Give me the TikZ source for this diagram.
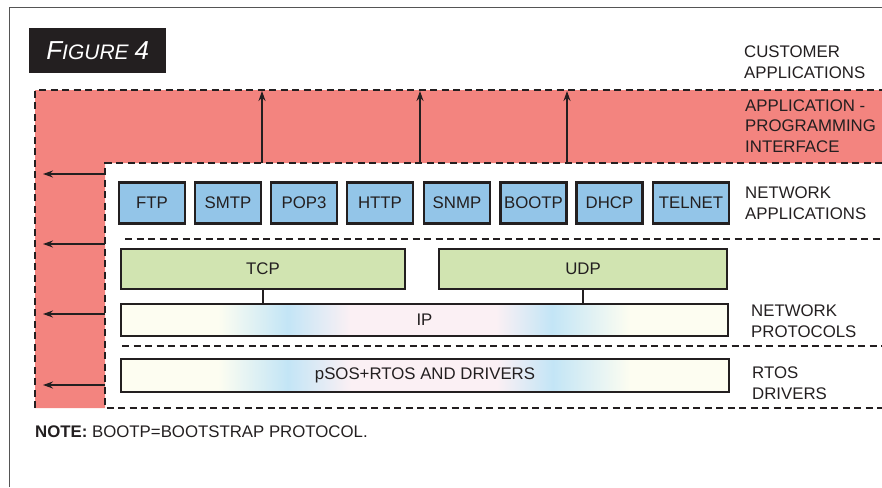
\documentclass[tikz,border=0pt]{standalone}
\usepackage{fontspec}
\setmainfont{Liberation Sans}
\usetikzlibrary{arrows.meta}
\definecolor{ink}{HTML}{231F20}
\definecolor{apired}{HTML}{F3847F}
\definecolor{appblue}{HTML}{93C5E8}
\definecolor{protgreen}{HTML}{D1E4B1}
\definecolor{ylw}{HTML}{FDFDF1}
\definecolor{lblue}{HTML}{C3E5F6}
\definecolor{lpink}{HTML}{FBF0F4}
\definecolor{framegray}{HTML}{555555}
\pgfdeclarehorizontalshading{layershade}{100bp}{color(0bp)=(ylw); color(33bp)=(ylw); color(38.7bp)=(lblue); color(43.9bp)=(lpink); color(55.9bp)=(lpink); color(60.5bp)=(lblue); color(66.9bp)=(ylw); color(100bp)=(ylw)}
\tikzset{
  lbl/.style={font=\fontsize{16.8}{20.5}\selectfont, text=ink, inner sep=0pt, align=left, anchor=base west},
  boxbase/.style={draw=ink, line width=2.8pt, inner sep=0pt, font=\fontsize{16.8}{20}\selectfont, text=ink},
  appbox/.style={boxbase, fill=appblue, minimum width=66pt, minimum height=41pt},
  protbox/.style={boxbase, fill=protgreen, minimum height=40pt},
  layerbox/.style={boxbase, shading=layershade, minimum height=33pt},
  dashline/.style={draw=ink, line width=1.6pt, dash pattern=on 7pt off 4.5pt},
  arr/.style={draw=ink, line width=1.4pt, -{Stealth[length=10pt,width=7pt]}},
  conn/.style={draw=ink, line width=1.4pt}
}
\begin{document}
\begin{tikzpicture}[x=1pt,y=-1pt]
\useasboundingbox (0,0) rectangle (882,487);
% outer frame
\draw[framegray, line width=1pt] (9,487) -- (9,8) -- (882,8);
% figure label
\node[fill=ink, minimum width=137pt, minimum height=45pt, inner sep=0pt, anchor=north west, text=white, font=\itshape] (fig) at (29,28)
  {{\fontsize{26}{26}\selectfont F}{\fontsize{21}{21}\selectfont IGURE }{\fontsize{26}{26}\selectfont 4}};
% red API region
\fill[apired] (35,90) -- (882,90) -- (882,163) -- (105,163) -- (105,408) -- (35,408) -- cycle;
\draw[dashline] (35,408) -- (35,90) -- (882,90);
\draw[dashline] (882,163) -- (105,163) -- (105,408) -- (882,408);
\draw[dashline] (125,239) -- (882,239);
\draw[dashline] (122,346) -- (882,346);
% application boxes
\node[appbox] (ftp) at (152,203) {FTP};
\node[appbox] (smtp) at (228,203) {SMTP};
\node[appbox] (pop) at (304,203) {POP3};
\node[appbox] (http) at (380,203) {HTTP};
\node[appbox] (snmp) at (457,203) {SNMP};
\node[appbox] (bootp) at (533.5,203) {BOOTP};
\node[appbox] (dhcp) at (609.5,203) {DHCP};
\node[appbox, minimum width=76pt] (telnet) at (691,203) {TELNET};
% protocol boxes
\node[protbox, minimum width=284pt] (tcp) at (263,269) {TCP};
\node[protbox, minimum width=288pt] (udp) at (583,269) {UDP};
\node[layerbox, minimum width=607pt, minimum height=32pt] (ip) at (424.5,320) {IP};
\node[layerbox, minimum width=608pt] (rtos) at (425,375.5) {pSOS+RTOS AND DRIVERS};
\draw[conn] (tcp.south) -- (tcp.south |- ip.north);
\draw[conn] (udp.south) -- (udp.south |- ip.north);
% up arrows
\coordinate (ub1) at (262,163); \coordinate (ut1) at (262,91);
\coordinate (ub2) at (420,163); \coordinate (ut2) at (420,91);
\coordinate (ub3) at (567,163); \coordinate (ut3) at (567,91);
\draw[arr] (ub1) -- (ut1);
\draw[arr] (ub2) -- (ut2);
\draw[arr] (ub3) -- (ut3);
% left arrows
\foreach \i/\yy in {1/174,2/244,3/314,4/385}{
  \coordinate (ls\i) at (105,\yy); \coordinate (le\i) at (43,\yy);
  \draw[arr] (ls\i) -- (le\i);
}
% right-hand labels (base anchor = last line)
\node[lbl] (lcust) at (744,78) {CUSTOMER\\APPLICATIONS};
\node[lbl] (lapi) at (745,152) {APPLICATION -\\PROGRAMMING\\INTERFACE};
\node[lbl] (lnet) at (745,219) {NETWORK\\APPLICATIONS};
\node[lbl] (lprot) at (751,337) {NETWORK\\PROTOCOLS};
\node[lbl] (lrtos) at (752,399) {RTOS\\DRIVERS};
% note
\node[lbl] (note) at (35,437) {\textbf{NOTE:} BOOTP=BOOTSTRAP PROTOCOL.};
\end{tikzpicture}
\end{document}
